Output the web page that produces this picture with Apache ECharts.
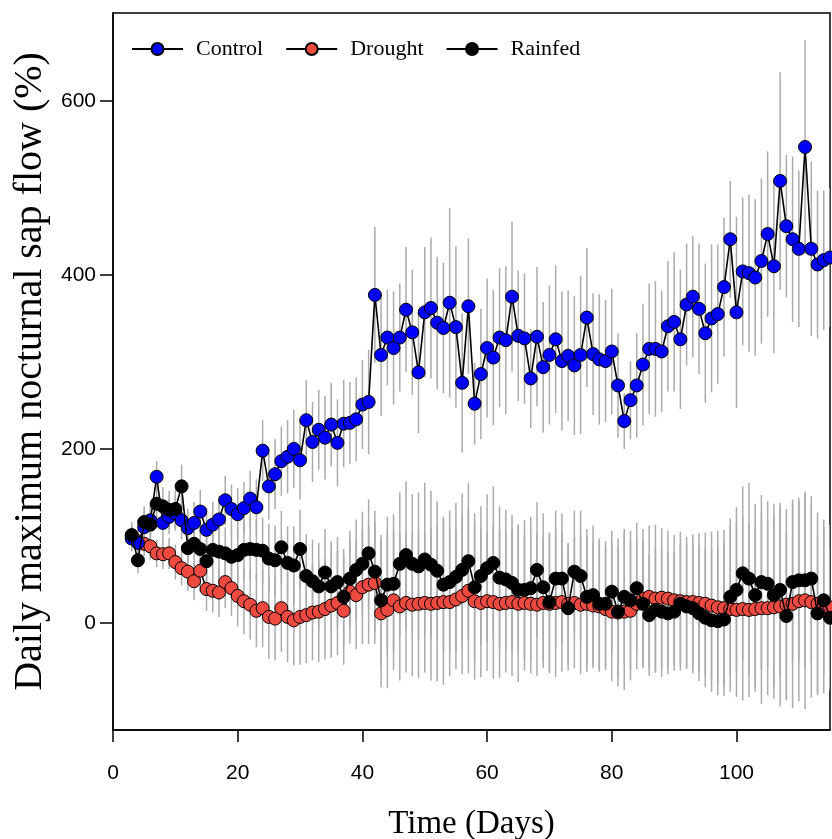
<!DOCTYPE html>
<html lang="en">
<head>
<meta charset="UTF-8">
<title>Daily maximum nocturnal sap flow</title>
<script src="https://cdn.jsdelivr.net/npm/echarts@6/dist/echarts.min.js"></script>
<style>
    html, body { margin: 0; padding: 0; background: #fff; }
    #main { width: 832px; height: 839px; }
</style>
</head>
<body>
<div id="main"></div>
<script>
// first day with data, then one value per day up to day 115
var firstDay = 3;

var control = [
    97, 92, 110, 118, 168, 115, 122, 126, 118, 109,
    115, 128, 107, 113, 119, 141, 131, 125, 132, 143,
    133, 198, 157, 171, 186, 191, 200, 187, 233, 208,
    222, 213, 228, 207, 229, 230, 234, 251, 254, 377,
    308, 328, 316, 328, 360, 334, 288, 357, 362, 345,
    339, 368, 340, 276, 364, 252, 286, 316, 305, 328,
    325, 375, 330, 327, 281, 329, 294, 308, 326, 301,
    307, 296, 308, 351, 309, 303, 301, 312, 273, 232,
    256, 273, 297, 315, 315, 312, 341, 346, 326, 366,
    375, 361, 333, 350, 355, 386, 441, 357, 404, 402,
    397, 416, 447, 410, 508, 456, 441, 430, 547, 430,
    412, 417, 420
];
var controlErr = [
    15, 15, 18, 18, 18, 20, 20, 20, 22, 22,
    24, 25, 25, 26, 27, 28, 28, 30, 30, 32, 32,
    35, 38, 40, 40, 42, 45, 45, 46, 46, 46, 48, 48, 50, 50, 47, 48, 51, 60,
    78, 70, 55, 65, 62, 72, 72, 70, 75, 81, 76, 75, 109, 93, 80, 78,
    47, 75, 80, 78, 80, 85, 86, 75, 75, 57, 80, 75, 80, 85, 80, 75, 80, 91, 80, 70, 75, 70, 72,
    60, 32, 45, 60, 70, 75, 78, 70, 75, 80, 80, 70, 70, 75, 80, 85, 80, 80, 67, 110,
    85, 90, 90, 95, 95, 100, 125, 82, 95, 90, 123, 100, 85, 80, 80
];

var drought = [
    100, 94, 91, 88, 80, 79, 80, 70, 63, 59,
    48, 60, 39, 37, 35, 47, 40, 31, 25, 21,
    14, 17, 7, 5, 17, 7, 3, 7, 9, 12,
    13, 16, 20, 23, 14, 36, 32, 41, 44, 46,
    11, 15, 26, 19, 23, 21, 22, 23, 22, 23,
    24, 24, 27, 31, 37, 25, 23, 25, 24, 22,
    23, 24, 22, 23, 22, 21, 23, 22, 23, 24,
    22, 23, 21, 22, 20, 19, 16, 13, 12, 13,
    14, 22, 28, 30, 28, 29, 28, 26, 25, 24,
    24, 23, 22, 20, 18, 17, 16, 15, 16, 15,
    16, 17, 17, 18, 19, 21, 22, 25, 26, 24,
    22, 19, 18
];
var droughtErr = [
    12, 12, 14, 15, 16, 17, 18, 20, 20, 22,
    22, 24, 25, 25, 28, 30, 32, 35, 38, 40, 42,
    45, 48, 48, 50, 52, 52, 55, 55, 55, 58, 58, 60, 60, 62, 60, 62, 65, 68,
    70, 85, 90, 80, 85, 80, 82, 85, 80, 88, 90, 95, 85, 80, 90, 95,
    90, 85, 80, 88, 85, 80, 85, 90, 78, 80, 82, 75, 80, 85, 80, 70, 75, 80, 78, 72, 75, 70, 80,
    85, 90, 80, 75, 80, 82, 85, 80, 78, 75, 80, 75, 78, 80, 82, 85, 88, 90, 95, 100,
    105, 100, 95, 110, 100, 105, 115, 110, 120, 115, 125, 110, 105, 100, 95
];

var rainfed = [
    101, 72, 116, 113, 137, 134, 130, 131, 157, 86,
    91, 85, 71, 84, 82, 80, 76, 78, 84, 85,
    84, 83, 74, 72, 87, 69, 66, 85, 54, 48,
    42, 58, 42, 47, 30, 51, 61, 68, 80, 59,
    26, 44, 45, 68, 78, 68, 65, 73, 67, 60,
    44, 47, 53, 61, 71, 41, 54, 63, 69, 52,
    50, 46, 38, 38, 40, 61, 41, 24, 51, 51,
    17, 59, 54, 30, 32, 22, 22, 36, 13, 30,
    26, 40, 22, 9, 15, 13, 11, 13, 22, 19,
    17, 11, 6, 3, 2, 4, 30, 38, 57, 51,
    32, 47, 45, 32, 38, 8, 47, 49, 49, 51,
    11, 26, 6
];
var rainfedErr = [
    15, 15, 18, 20, 20, 22, 22, 22, 25, 25,
    26, 26, 28, 28, 30, 30, 32, 32, 34, 35, 35,
    38, 40, 40, 42, 42, 45, 45, 48, 48, 50, 50, 52, 52, 55, 55, 58, 60, 62,
    70, 75, 78, 80, 82, 85, 80, 85, 88, 85, 80, 78, 82, 85, 88, 90,
    85, 80, 85, 88, 82, 80, 78, 75, 80, 82, 78, 85, 80, 78, 75, 72, 70, 75, 78, 80, 75, 72, 70,
    75, 78, 80, 75, 72, 70, 72, 75, 70, 68, 70, 72, 75, 78, 80, 82, 85, 88, 90, 95,
    100, 110, 105, 100, 95, 105, 100, 95, 90, 95, 100, 95, 90, 85, 80
];

var xTicks = [0, 20, 40, 60, 80, 100];
var yTicks = [0, 200, 400, 600];

function points(vals) {
    return vals.map(function (v, i) { return [firstDay + i, v]; });
}
function bars(vals, errs) {
    return vals.map(function (v, i) { return [firstDay + i, v - errs[i], v + errs[i]]; });
}

// one grey vertical segment per day
function renderBar(params, api) {
    var lo = api.coord([api.value(0), api.value(1)]);
    var hi = api.coord([api.value(0), api.value(2)]);
    return {
        type: 'line',
        shape: { x1: lo[0], y1: lo[1], x2: hi[0], y2: hi[1] },
        style: { stroke: '#ababab', lineWidth: 1.5 }
    };
}

function barSeries(vals, errs) {
    return {
        type: 'custom',
        renderItem: renderBar,
        data: bars(vals, errs),
        encode: { x: 0, y: [1, 2] },
        clip: true,
        silent: true,
        z: 1
    };
}

function lineSeries(name, vals, color, z) {
    return {
        name: name,
        type: 'line',
        data: points(vals),
        symbol: 'circle',
        symbolSize: 13,
        showAllSymbol: true,
        itemStyle: { color: color, borderColor: '#000', borderWidth: 1 },
        lineStyle: { color: '#000', width: 1.6 },
        z: z
    };
}

var myChart = echarts.init(document.getElementById('main'));

var option = {
    animation: false,
    backgroundColor: '#fff',
    grid: {
        left: 113, top: 13, right: 2, bottom: 109,
        outerBoundsMode: 'none',
        show: true, borderColor: '#000', borderWidth: 1.5
    },
    legend: {
        data: ['Control', 'Drought', 'Rainfed'],
        left: 126,
        top: 33,
        itemWidth: 51,
        itemHeight: 15,
        itemGap: 22,
        textStyle: { fontFamily: 'Liberation Serif', fontSize: 22, color: '#000', padding: [0, 0, 0, 8] }
    },
    xAxis: {
        type: 'value',
        min: 0,
        max: 115,
        name: 'Time (Days)',
        nameLocation: 'middle',
        nameGap: 78,
        nameTextStyle: { fontFamily: 'Liberation Serif', fontSize: 33, color: '#000' },
        axisLine: { show: true, onZero: false, lineStyle: { color: '#000', width: 1.5 } },
        axisTick: { show: true, length: 12, customValues: xTicks, lineStyle: { color: '#000', width: 1.5 } },
        axisLabel: {
            customValues: xTicks, margin: 33,
            fontFamily: 'Liberation Sans', fontSize: 21, color: '#000'
        },
        splitLine: { show: false }
    },
    yAxis: {
        type: 'value',
        min: -123,
        max: 701,
        name: 'Daily maximum nocturnal sap flow (%)',
        nameLocation: 'middle',
        nameGap: 63,
        nameRotate: 90,
        nameTextStyle: { fontFamily: 'Liberation Serif', fontSize: 40, color: '#000' },
        axisLine: { show: true, onZero: false, lineStyle: { color: '#000', width: 1.5 } },
        axisTick: { show: true, length: 13, customValues: yTicks, lineStyle: { color: '#000', width: 1.5 } },
        axisLabel: {
            customValues: yTicks, margin: 17,
            fontFamily: 'Liberation Sans', fontSize: 21, color: '#000'
        },
        splitLine: { show: false }
    },
    series: [
        barSeries(control, controlErr),
        barSeries(drought, droughtErr),
        barSeries(rainfed, rainfedErr),
        lineSeries('Drought', drought, '#ef4a3f', 3),
        lineSeries('Control', control, '#0000ff', 4),
        lineSeries('Rainfed', rainfed, '#000000', 5)
    ]
};

myChart.setOption(option);
</script>
</body>
</html>
